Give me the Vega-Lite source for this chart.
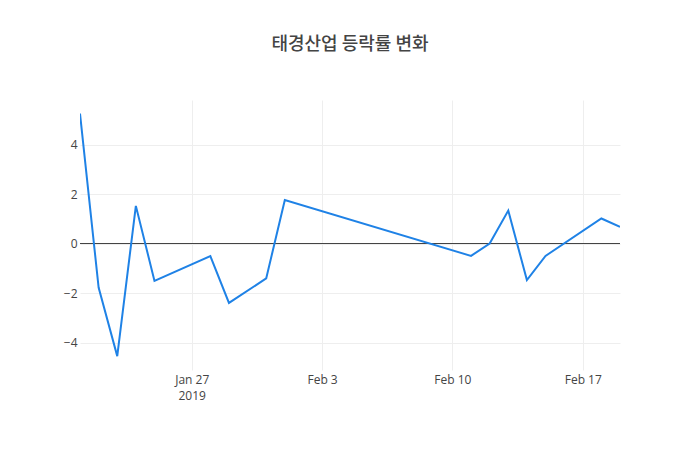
{
  "$schema": "https://vega.github.io/schema/vega-lite/v6.json",
  "autosize": {"type": "none"},
  "width": 540,
  "height": 270,
  "padding": {"left": 80, "top": 100, "right": 80, "bottom": 80},
  "background": "white",
  "title": {
    "text": "태경산업 등락률 변화",
    "font": "Noto Sans CJK KR",
    "fontSize": 18,
    "fontWeight": 500,
    "color": "#444444",
    "anchor": "middle",
    "frame": "group",
    "baseline": "middle",
    "offset": 37
  },
  "config": {
    "view": {"stroke": null},
    "axis": {
      "labelFont": "Open Sans",
      "labelFontSize": 12,
      "labelColor": "#444444",
      "gridColor": "#eeeeee",
      "gridWidth": 1,
      "domain": false,
      "ticks": false,
      "title": null
    }
  },
  "layer": [
    {
      "data": {"values": [{"zero": 0}]},
      "mark": {"type": "rule", "color": "#444444", "strokeWidth": 1},
      "encoding": {
        "y": {"field": "zero", "type": "quantitative", "scale": {"domain": [-5.111, 5.798], "nice": false, "zero": false}}
      }
    },
    {
      "data": {
        "values": [
          {"date": "2019-01-21", "rate": 5.25},
          {"date": "2019-01-22", "rate": -1.78},
          {"date": "2019-01-23", "rate": -4.55},
          {"date": "2019-01-24", "rate": 1.52},
          {"date": "2019-01-25", "rate": -1.51},
          {"date": "2019-01-28", "rate": -0.51},
          {"date": "2019-01-29", "rate": -2.4},
          {"date": "2019-01-31", "rate": -1.41},
          {"date": "2019-02-01", "rate": 1.76},
          {"date": "2019-02-11", "rate": -0.5},
          {"date": "2019-02-12", "rate": 0.0},
          {"date": "2019-02-13", "rate": 1.33},
          {"date": "2019-02-14", "rate": -1.48},
          {"date": "2019-02-15", "rate": -0.5},
          {"date": "2019-02-18", "rate": 1.01},
          {"date": "2019-02-19", "rate": 0.67}
        ]
      },
      "mark": {"type": "line", "color": "#1f82e6", "strokeWidth": 2, "clip": true},
      "encoding": {
        "x": {
          "field": "date",
          "type": "temporal",
          "scale": {"type": "utc", "domain": ["2019-01-21", "2019-02-19"]},
          "axis": {
            "values": [
              {"year": 2019, "month": 1, "date": 27, "utc": true},
              {"year": 2019, "month": 2, "date": 3, "utc": true},
              {"year": 2019, "month": 2, "date": 10, "utc": true},
              {"year": 2019, "month": 2, "date": 17, "utc": true}
            ],
            "labelExpr": "datum.index == 0 ? [utcFormat(datum.value, '%b %-d'), '2019'] : utcFormat(datum.value, '%b %-d')",
            "labelPadding": 4,
            "labelLineHeight": 16,
            "labelBaseline": "top",
            "grid": true
          }
        },
        "y": {
          "field": "rate",
          "type": "quantitative",
          "scale": {"domain": [-5.111, 5.798], "nice": false, "zero": false},
          "axis": {"values": [-4, -2, 0, 2, 4], "labelPadding": 3, "grid": true}
        }
      }
    }
  ]
}
